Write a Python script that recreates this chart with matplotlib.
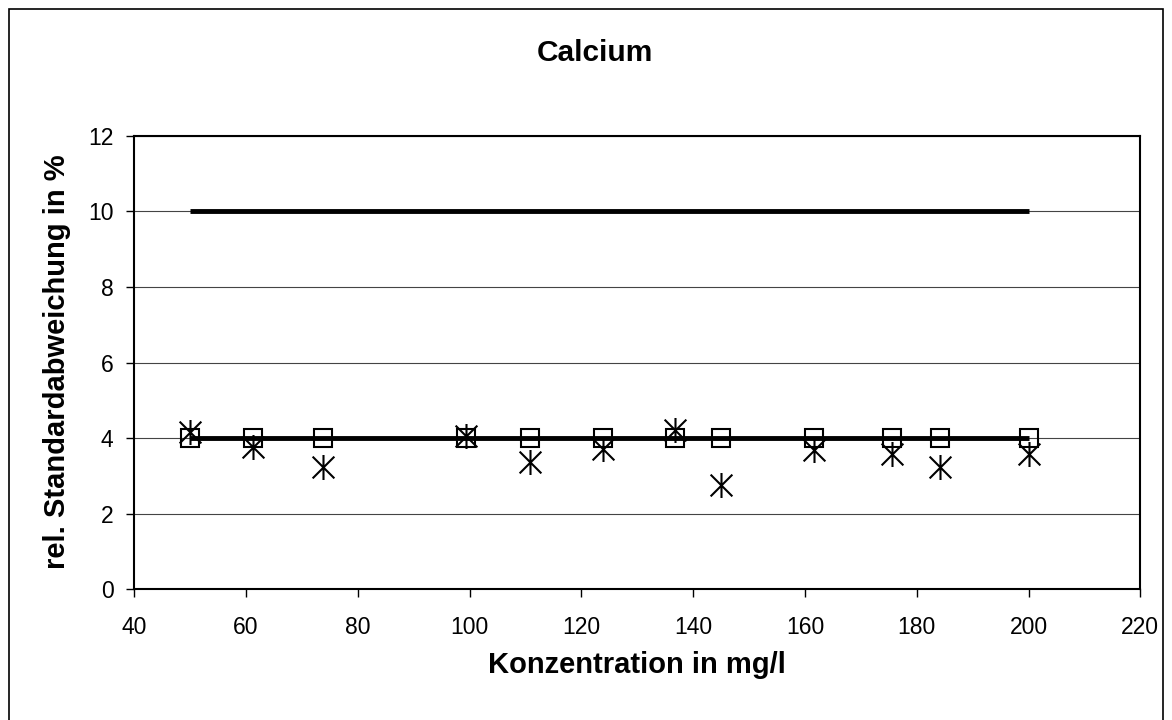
import matplotlib
matplotlib.use("Agg")
import matplotlib.pyplot as plt
from matplotlib.path import Path
from matplotlib.patches import Rectangle

plt.rcParams['font.family'] = ['Liberation Sans', 'DejaVu Sans']

# Data
konz = [50, 61.3, 73.7, 99.4, 110.8, 123.9, 136.7, 145.0, 161.7, 175.5, 184.2, 200]
soll = [4, 4, 4, 4, 4, 4, 4, 4, 4, 4, 4, 4]
rsd = [4.15, 3.77, 3.24, 4.05, 3.38, 3.70, 4.21, 2.76, 3.68, 3.59, 3.24, 3.59]
grenze_x = [50, 200]
grenze_10 = [10, 10]
grenze_4 = [4, 4]
xticks = [40, 60, 80, 100, 120, 140, 160, 180, 200, 220]
yticks = [0, 2, 4, 6, 8, 10, 12]

title = "Calcium"
xlabel = "Konzentration in mg/l"
ylabel = "rel. Standardabweichung in %"

fig = plt.figure(figsize=(11.72, 7.2), dpi=100)
ax = fig.add_axes([134.3/1172, 1 - 589.3/720, (1140.3-134.3)/1172, (589.3-135.7)/720])

star = Path([(-1, -1), (1, 1), (-1, 1), (1, -1), (0, -1.15), (0, 1.15)],
            [Path.MOVETO, Path.LINETO, Path.MOVETO, Path.LINETO, Path.MOVETO, Path.LINETO])

ax.plot(konz, soll, linestyle='none', marker='s', markersize=13, markerfacecolor='none',
        markeredgecolor='black', markeredgewidth=1.5, zorder=3)
ax.plot(grenze_x, grenze_10, color='black', lw=3.5, solid_capstyle='butt', zorder=4)
ax.plot(grenze_x, grenze_4, color='black', lw=3.5, solid_capstyle='butt', zorder=4)
ax.plot(konz, rsd, linestyle='none', marker=star, markersize=18, markeredgecolor='black',
        markeredgewidth=1.5, zorder=5)

ax.set_xlim(40, 220)
ax.set_ylim(0, 12)
ax.set_xticks(xticks)
ax.set_yticks(yticks)
ax.yaxis.grid(True, color='#444444', lw=0.8)
ax.set_axisbelow(True)
for s in ax.spines.values():
    s.set_color('black')
    s.set_linewidth(1.5)
ax.tick_params(direction='out', length=6, width=1, labelsize=16.5)
ax.tick_params(axis='x', pad=13)
ax.tick_params(axis='y', pad=9)

fig.text(595/1172, 1 - 53/720, title, ha='center', va='center', fontsize=21.5, fontweight='bold')
fig.text(637/1172, 1 - 665/720, xlabel, ha='center', va='center', fontsize=21, fontweight='bold')
fig.text(57/1172, 1 - 362/720, ylabel, ha='center', va='center', fontsize=21, fontweight='bold', rotation=90)

fig.patches.append(Rectangle((9/1172, -0.01), (1163-9)/1172, 1 - 9/720 + 0.01, transform=fig.transFigure,
                             fill=False, edgecolor='black', lw=1.2))

fig.savefig('out.png', dpi=100)
